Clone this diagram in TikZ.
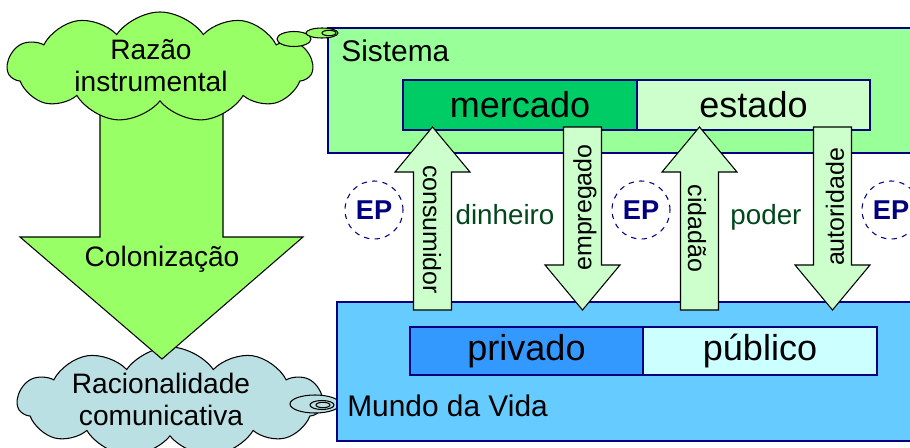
\documentclass[tikz,border=0pt]{standalone}
\usepackage{fontspec}
\setmainfont{Liberation Sans}
\usetikzlibrary{shapes.symbols}
\usetikzlibrary{positioning}

\definecolor{verdeNuvem}{HTML}{99FF66}
\definecolor{azulNuvem}{HTML}{BBE0E3}
\definecolor{verdeSistema}{HTML}{99FF99}
\definecolor{verdeMercado}{HTML}{00CC66}
\definecolor{verdeClaro}{HTML}{CCFFCC}
\definecolor{azulMundo}{HTML}{66CCFF}
\definecolor{azulPrivado}{HTML}{3399FF}
\definecolor{azulPublico}{HTML}{CCFFFF}
\definecolor{marinho}{HTML}{000080}
\definecolor{verdeEscuro}{HTML}{00471A}

\begin{document}
\begin{tikzpicture}[
	x=0.2mm, y=-0.2mm, every node/.style={inner sep=0pt},
  caixa/.style = {draw=marinho, line width=0.8pt, outer sep=0pt},
  bloco/.style = {draw, fill=verdeClaro, line width=0.6pt},
  bolha/.style = {draw, line width=0.6pt},
  nuvem/.style = {cloud, cloud puffs=11, cloud puff arc=110, cloud ignores aspect, draw, line width=0.6pt, minimum width=61mm, minimum height=22mm},
  texto/.style = {font=\fontsize{16}{18.2}\selectfont, align=center},
  grande/.style = {font=\fontsize{20.5}{24}\selectfont},
  titulo/.style = {font=\fontsize{17}{20}\selectfont},
  rotulo/.style = {font=\fontsize{14.2}{17}\selectfont},
  troca/.style = {font=\fontsize{15.8}{19}\selectfont, text=verdeEscuro},
  ep/.style = {circle, draw=marinho, dashed, line width=0.6pt, minimum size=11.6mm, text=marinho, font=\fontsize{15.5}{17}\selectfont\bfseries}
  ]
	\clip (0,0) rectangle (910,448);

	% nuvem de baixo
	\node[nuvem, fill=azulNuvem] (racional) at (170,402) {};
	\draw[bolha, fill=azulNuvem] (315,404) ellipse (25 and 9);
	\draw[bolha, fill=azulNuvem] (322,405) ellipse (12 and 4.5);
	\draw[bolha, fill=azulNuvem] (323,405) ellipse (7 and 2.7);
	\node[texto] (racionalTexto) at (161,399) {Racionalidade\\comunicativa};

	% mundo da vida
	\node[caixa, fill=azulMundo, anchor=north west, minimum width=118.6mm, minimum height=27.8mm] (mundo) at (337,302) {};
	\node[titulo, anchor=base west] (mundoTexto) at (347,416) {Mundo da Vida};
	\node[caixa, fill=azulPrivado, grande, minimum width=46.6mm, minimum height=9.6mm] (privado) at (526.5,351) {privado};
	\node[caixa, fill=azulPublico, grande, minimum width=46.8mm, minimum height=9.6mm, right=0pt of privado] (publico) {público};

	% sistema
	\node[caixa, fill=verdeSistema, anchor=north west, minimum width=120.4mm, minimum height=25mm] (sistema) at (328,28) {};
	\node[titulo, anchor=base west] (sistemaTexto) at (341,62) {Sistema};
	\node[caixa, fill=verdeMercado, grande, minimum width=46.8mm, minimum height=10mm] (mercado) at (520,105) {mercado};
	\node[caixa, fill=verdeClaro, grande, minimum width=46.6mm, minimum height=10mm, right=0pt of mercado] (estado) {estado};

	% colonizacao
	\draw[bolha, fill=verdeNuvem] (100,100) -- (100,237) -- (20,237) -- (162,359) -- (303,237) -- (223,237) -- (223,100) -- cycle;
	\node[texto, anchor=base] (colonizacao) at (162,266) {Colonização};

	% nuvem de cima
	\node[nuvem, fill=verdeNuvem] (razao) at (160,67) {};
	\draw[bolha, fill=verdeNuvem] (294,39) ellipse (17 and 7.5);
	\draw[bolha, fill=verdeNuvem] (322,33) ellipse (16 and 5);
	\draw[bolha, fill=verdeNuvem] (329,33) ellipse (7 and 2.7);
	\node[texto] (razaoTexto) at (151,66) {Razão\\instrumental};

	% setas entre sistema e mundo da vida
	\draw[bloco] (413.5,310) -- (413.5,172) -- (395,172) -- (432.5,127) -- (470,172) -- (451.5,172) -- (451.5,310) -- cycle;
	\draw[bloco] (563.5,127) -- (563.5,265) -- (545,265) -- (582.5,310) -- (620,265) -- (601.5,265) -- (601.5,127) -- cycle;
	\draw[bloco] (680.5,310) -- (680.5,172) -- (662,172) -- (699.5,127) -- (737,172) -- (718.5,172) -- (718.5,310) -- cycle;
	\draw[bloco] (813.5,127) -- (813.5,265) -- (795,265) -- (832.5,310) -- (870,265) -- (851.5,265) -- (851.5,127) -- cycle;

	\node[rotulo, rotate=-90] (consumidor) at (432,229.5) {consumidor};
	\node[rotulo, rotate=90] (empregado) at (585,207.5) {empregado};
	\node[rotulo, rotate=-90] (cidadao) at (697,228.5) {cidadão};
	\node[rotulo, rotate=90] (autoridade) at (835,207) {autoridade};

	\node[troca, anchor=base] (dinheiro) at (505,224) {dinheiro};
	\node[troca, anchor=base] (poder) at (766,224) {poder};

	\node[ep] (ep1) at (374,210) {EP};
	\node[ep] (ep2) at (641,210) {EP};
	\node[ep] (ep3) at (891,210) {EP};

\end{tikzpicture}
\end{document}
